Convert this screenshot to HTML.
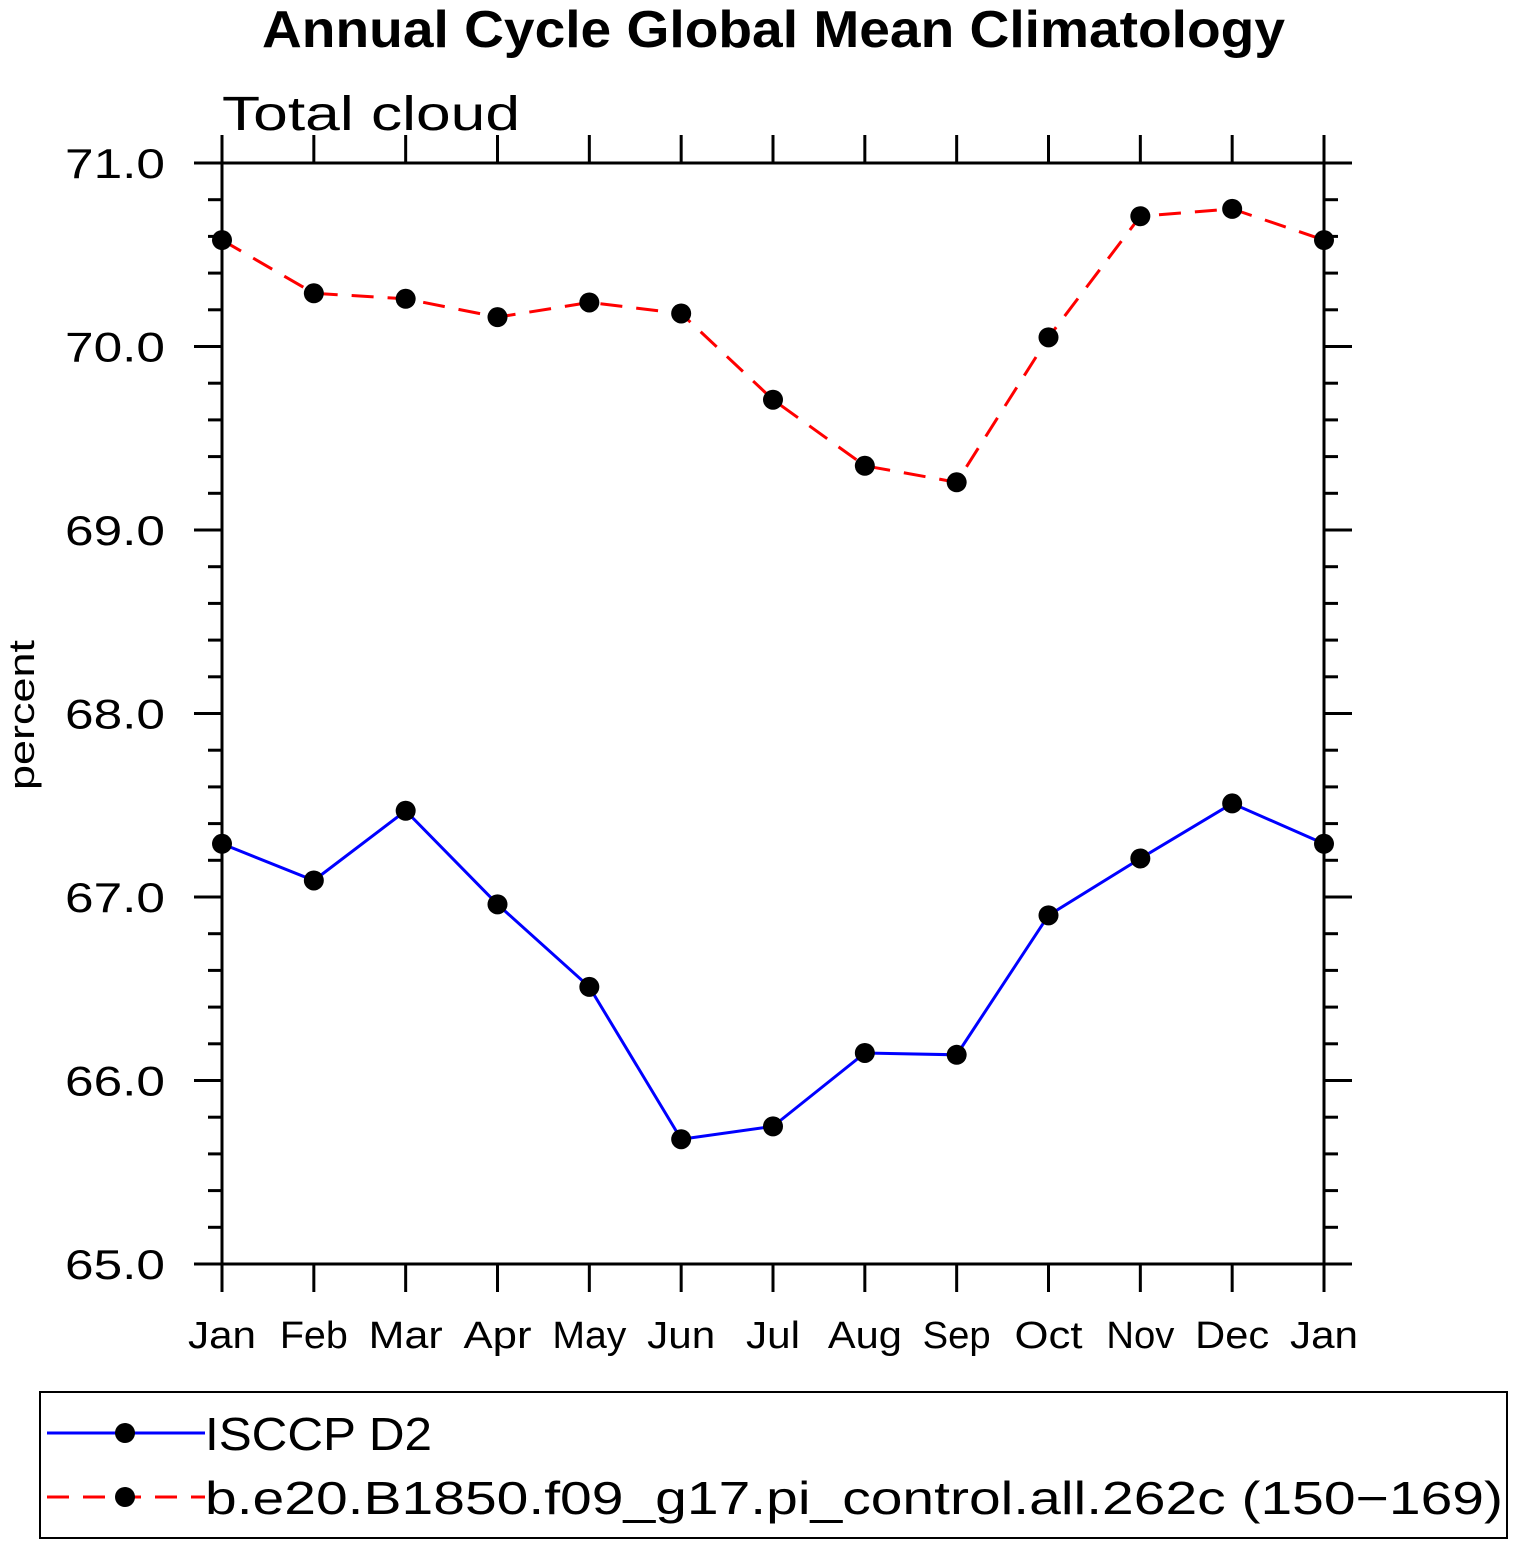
<!DOCTYPE html>
<html><head><meta charset="utf-8"><style>
html,body{margin:0;padding:0;background:#fff}
svg{display:block}
text{font-family:"Liberation Sans",sans-serif;fill:#000}
</style></head><body>
<svg id="c" width="1514" height="1545" xmlns="http://www.w3.org/2000/svg">
<text x="262" y="47" textLength="1023" lengthAdjust="spacingAndGlyphs" font-size="52" font-weight="bold">Annual Cycle Global Mean Climatology</text>
<text x="222" y="130" textLength="298" lengthAdjust="spacingAndGlyphs" font-size="48">Total cloud</text>
<text transform="translate(34,715) rotate(-90)" text-anchor="middle" textLength="150" lengthAdjust="spacingAndGlyphs" font-size="36">percent</text>
<g id="axes"></g>
<g id="series"></g>
<rect x="40" y="1392" width="1467" height="146" fill="none" stroke="#000" stroke-width="2"/>
<g>
<line x1="47" y1="1433" x2="205" y2="1433" stroke="#00f" stroke-width="3"/>
<circle cx="125" cy="1433" r="10" fill="#000"/>
<text x="205" y="1450" textLength="227" lengthAdjust="spacingAndGlyphs" font-size="46">ISCCP D2</text>
</g>
<g>
<line x1="47" y1="1497" x2="205" y2="1497" stroke="#f00" stroke-width="3" stroke-dasharray="22,14"/>
<circle cx="125" cy="1497" r="10" fill="#000"/>
<text x="205" y="1514" textLength="1298" lengthAdjust="spacingAndGlyphs" font-size="46">b.e20.B1850.f09_g17.pi_control.all.262c (150−169)</text>
</g>
</svg>
<script>
const months=["Jan","Feb","Mar","Apr","May","Jun","Jul","Aug","Sep","Oct","Nov","Dec","Jan"];
const isccp=[67.29,67.09,67.47,66.96,66.51,65.68,65.75,66.15,66.14,66.90,67.21,67.51,67.29];
const model=[70.58,70.29,70.26,70.16,70.24,70.18,69.71,69.35,69.26,70.05,70.71,70.75,70.58];
const yTicks=[65,66,67,68,69,70,71];
const yLabels=["65.0","66.0","67.0","68.0","69.0","70.0","71.0"];
const NS="http://www.w3.org/2000/svg";
const X0=222,X1=1324,Y0=1264,Y1=163,YMIN=65,YMAX=71;
function xs(i){return X0+(X1-X0)*i/(months.length-1);}
function ys(v){return Y0-(v-YMIN)/(YMAX-YMIN)*(Y0-Y1);}
function mk(t,a,p){const e=document.createElementNS(NS,t);for(const k in a)e.setAttribute(k,a[k]);p.appendChild(e);return e;}
const ax=document.getElementById('axes');
const frame=mk('rect',{x:X0,y:Y1,width:X1-X0,height:Y0-Y1,fill:'none',stroke:'#000','stroke-width':3},ax);


months.forEach((m,i)=>{
  const x=xs(i);
  mk('line',{x1:x,y1:Y0,x2:x,y2:Y0+28,stroke:'#000','stroke-width':3},ax);
  mk('line',{x1:x,y1:Y1,x2:x,y2:Y1-28,stroke:'#000','stroke-width':3},ax);
  const w=m==="Jul"?54:(m==="May"||m==="Dec"||m==="Mar"||m==="Aug"?74:68);
  const t=mk('text',{x:x-w/2,y:1348,textLength:w,lengthAdjust:'spacingAndGlyphs','font-size':38},ax);
  t.textContent=m;
  
  
});
for(let v=YMIN;v<=YMAX+1e-9;v+=0.2){
  const y=ys(v);
  const major=Math.abs(v-Math.round(v))<1e-6;
  const L=major?28:14;
  mk('line',{x1:X0-L,y1:y,x2:X0,y2:y,stroke:'#000','stroke-width':3},ax);
  mk('line',{x1:X1,y1:y,x2:X1+L,y2:y,stroke:'#000','stroke-width':3},ax);
}
yTicks.forEach((v,i)=>{
  const t=mk('text',{x:65,y:ys(v)+15,textLength:100,lengthAdjust:'spacingAndGlyphs','font-size':42},ax);
  t.textContent=yLabels[i];
  
  
});
const sg=document.getElementById('series');
function series(vals,color,dash,name){
  const g=mk('g',{},sg);
  
  
  const a={points:vals.map((v,i)=>xs(i)+','+ys(v)).join(' '),fill:'none',stroke:color,'stroke-width':3};
  if(dash)a['stroke-dasharray']=dash;
  mk('polyline',a,g);
  vals.forEach((v,i)=>{
    const c=mk('circle',{cx:xs(i),cy:ys(v),r:10,fill:'#000'},g);
    
    
  });
}
series(isccp,'#00f',null,'series-isccp');
series(model,'#f00','22,14','series-model');
</script>
</body></html>
